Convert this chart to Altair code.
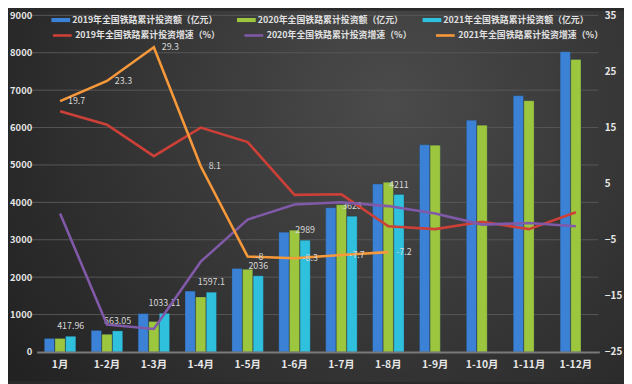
import altair as alt
import pandas as pd

months = ["1月", "1-2月", "1-3月", "1-4月", "1-5月", "1-6月", "1-7月", "1-8月", "1-9月", "1-10月", "1-11月", "1-12月"]

bar_series = ["2019年全国铁路累计投资额（亿元）", "2020年全国铁路累计投资额（亿元）", "2021年全国铁路累计投资额（亿元）"]
line_series = ["2019年全国铁路累计投资增速（%）", "2020年全国铁路累计投资增速（%）", "2021年全国铁路累计投资增速（%）"]

inv2019 = [360, 577, 1024, 1627, 2231, 3202, 3858, 4488, 5538, 6194, 6850, 8029]
inv2020 = [360, 472, 814, 1470, 2210, 3255, 3937, 4540, 5530, 6063, 6719, 7819]
inv2021 = [417.96, 563.05, 1033.11, 1597.1, 2036, 2989, 3628, 4211]
inv2021_labels = ["417.96", "563.05", "1033.11", "1597.1", "2036", "2989", "3628", "4211"]

g2019 = [17.9, 15.5, 9.9, 15.0, 12.4, 3.0, 3.1, -2.6, -3.1, -1.8, -3.1, -0.1]
g2020 = [-0.3, -20.1, -20.9, -8.9, -1.4, 1.3, 1.7, 1.0, -0.3, -2.3, -2.0, -2.6]
g2021 = [19.7, 23.3, 29.3, 8.1, -8, -8.3, -7.7, -7.2]
g2021_labels = ["19.7", "23.3", "29.3", "8.1", "-8", "-8.3", "-7.7", "-7.2"]

left_ticks = list(range(0, 9001, 1000))
right_ticks = [-25, -15, -5, 5, 15, 25, 35]

bar_colors = ["#3b82d6", "#9cc63e", "#2fc0dd"]
line_colors = ["#cc4038", "#8059a8", "#f7993a"]

rows = []
for s, vals in zip(bar_series, [inv2019, inv2020, inv2021]):
    for m, v in zip(months, vals):
        rows.append({"month": m, "series": s, "value": v})
bars_df = pd.DataFrame(rows)

lab_df = pd.DataFrame({"month": months[:len(inv2021)], "series": bar_series[2],
                       "value": inv2021, "label": inv2021_labels})

rows = []
for s, vals in zip(line_series, [g2019, g2020, g2021]):
    for m, v in zip(months, vals):
        rows.append({"month": m, "series": s, "value": v})
lines_df = pd.DataFrame(rows)

llab_df = pd.DataFrame({"month": months[:len(g2021)], "value": g2021, "label": g2021_labels})
grid_df = pd.DataFrame({"value": left_ticks[1:]})

FONT = "Noto Sans CJK SC"
W, H = 570, 341
PL, PT, PR, PB = 29, 5, 25, 30

x_axis = alt.Axis(labelAngle=0, ticks=False, domainColor="#7a7a7a", domainWidth=2,
                  labelColor="#e6e6e6", labelFontSize=10.5, labelFontWeight="bold",
                  labelPadding=8, labelFont=FONT, grid=False, zindex=1)
x_scale = alt.Scale(paddingInner=0.33, paddingOuter=0.165)
x_enc = alt.X("month:N", sort=months, title=None, scale=x_scale, axis=x_axis)
x_line = alt.X("month:N", sort=months, title=None, scale=x_scale, axis=x_axis, bandPosition=0.5)
xoff = alt.XOffset("series:N", sort=bar_series, scale=alt.Scale(paddingInner=0.04))

y_left = alt.Y("value:Q", title=None,
               scale=alt.Scale(domain=[0, 9000], nice=False, zero=True),
               axis=alt.Axis(values=left_ticks, format="d", grid=False, domain=False, ticks=False,
                             labelColor="#e6e6e6", labelFontSize=9.5, labelFontWeight="bold",
                             labelPadding=5, labelFont=FONT, zindex=1))
y_right = alt.Y("value:Q", title=None,
                scale=alt.Scale(domain=[-25, 35], nice=False, zero=False),
                axis=alt.Axis(orient="right", values=right_ticks, format="d", grid=False,
                              domain=False, ticks=False, labelColor="#e6e6e6", labelFontSize=10,
                              labelFontWeight="bold", labelPadding=5, labelFont=FONT, zindex=1))

leg_common = dict(title=None, orient="none", legendX=15, direction="horizontal", columns=3,
                  gridAlign="all", symbolSize=361, labelColor="#e0e0e0", labelFontSize=9,
                  labelFont=FONT, labelFontWeight="bold", labelLimit=300, columnPadding=19,
                  padding=0, labelOffset=2, zindex=1)

bg_grad = alt.RadialGradient(gradient="radial", x1=0.62, y1=0.35, x2=0.62, y2=0.35, r1=0, r2=0.75,
                             stops=[alt.GradientStop(offset=0, color="#4b4b4b"),
                                    alt.GradientStop(offset=1, color="#222222")])

bg = alt.Chart(pd.DataFrame({"k": [0]})).mark_rect(fill=bg_grad).encode(
    x=alt.value(-PL), x2=alt.value(W + PR), y=alt.value(-PT), y2=alt.value(H + PB))

grid = alt.Chart(grid_df).mark_rule(color="#575757", strokeWidth=1).encode(
    y=y_left, x=alt.value(-7), x2=alt.value(W - 1))

bars = alt.Chart(bars_df).mark_bar(stroke="#233a55", strokeWidth=0.4, strokeOpacity=0.7).encode(
    x=x_enc, xOffset=xoff, y=y_left,
    color=alt.Color("series:N", sort=bar_series,
                    scale=alt.Scale(domain=bar_series, range=bar_colors),
                    legend=alt.Legend(legendY=-5, symbolType="M-1,-0.22L1,-0.22L1,0.22L-1,0.22Z",
                                      symbolStrokeWidth=0, **leg_common)),
)

bar_labels = alt.Chart(lab_df).mark_text(dy=-10, fontSize=9, color="#d8d8d8", font=FONT).encode(
    x=x_enc, xOffset=xoff, y=y_left, text="label:N")

lines = alt.Chart(lines_df).mark_line(strokeWidth=2.6).encode(
    x=x_line, y=y_right,
    stroke=alt.Stroke("series:N", sort=line_series,
                      scale=alt.Scale(domain=line_series, range=line_colors),
                      legend=alt.Legend(legendY=9, symbolType="stroke", symbolStrokeWidth=2.6,
                                        **leg_common)),
)

line_labels = alt.Chart(llab_df).mark_text(align="left", dx=8, baseline="middle", fontSize=9,
                                           color="#d8d8d8", font=FONT).encode(
    x=x_line, y=y_right, text="label:N")

left = alt.layer(bg, grid, bars, bar_labels)
right = alt.layer(lines, line_labels)

chart = alt.layer(left, right).resolve_scale(y="independent").properties(
    width=W, height=H,
    autosize=alt.AutoSizeParams(type="none"),
    padding={"left": PL, "top": PT, "right": PR, "bottom": PB},
    background="#2a2a2a",
).configure_view(stroke=None)

chart.save("out.html", embed_options={"renderer": "svg", "actions": False})
